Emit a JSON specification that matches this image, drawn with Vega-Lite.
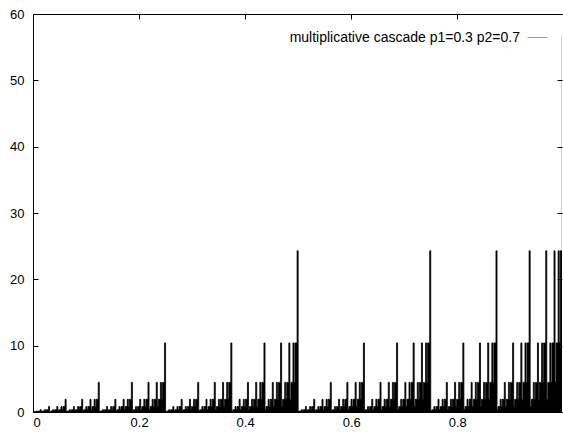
{
  "$schema": "https://vega.github.io/schema/vega-lite/v6.json",
  "width": 529,
  "height": 398,
  "autosize": {"type": "none"},
  "padding": {"left": 33, "top": 14, "right": 1, "bottom": 20},
  "background": "white",
  "config": {
    "view": {"stroke": null},
    "font": "Liberation Sans",
    "axis": {"grid": false, "domainColor": "#000000", "tickColor": "#000000", "domainWidth": 1, "tickWidth": 1, "labelColor": "#000000", "labelFont": "Liberation Sans", "labelFontSize": 13, "title": null}
  },
  "data": {"values": [
    {"x":0,"density":0.028},{"x":0.002,"density":0.065},{"x":0.0039,"density":0.065},{"x":0.0059,"density":0.151},{"x":0.0078,"density":0.065},{"x":0.0098,"density":0.151},{"x":0.0117,"density":0.151},{"x":0.0137,"density":0.351},
    {"x":0.0156,"density":0.065},{"x":0.0176,"density":0.151},{"x":0.0195,"density":0.151},{"x":0.0215,"density":0.351},{"x":0.0234,"density":0.151},{"x":0.0254,"density":0.351},{"x":0.0273,"density":0.351},{"x":0.0293,"density":0.82},
    {"x":0.0313,"density":0.065},{"x":0.0332,"density":0.151},{"x":0.0352,"density":0.151},{"x":0.0371,"density":0.351},{"x":0.0391,"density":0.151},{"x":0.041,"density":0.351},{"x":0.043,"density":0.351},{"x":0.0449,"density":0.82},
    {"x":0.0469,"density":0.151},{"x":0.0488,"density":0.351},{"x":0.0508,"density":0.351},{"x":0.0527,"density":0.82},{"x":0.0547,"density":0.351},{"x":0.0566,"density":0.82},{"x":0.0586,"density":0.82},{"x":0.0605,"density":1.913},

    {"x":0.0625,"density":0.065},{"x":0.0645,"density":0.151},{"x":0.0664,"density":0.151},{"x":0.0684,"density":0.351},{"x":0.0703,"density":0.151},{"x":0.0723,"density":0.351},{"x":0.0742,"density":0.351},{"x":0.0762,"density":0.82},
    {"x":0.0781,"density":0.151},{"x":0.0801,"density":0.351},{"x":0.082,"density":0.351},{"x":0.084,"density":0.82},{"x":0.0859,"density":0.351},{"x":0.0879,"density":0.82},{"x":0.0898,"density":0.82},{"x":0.0918,"density":1.913},
    {"x":0.0938,"density":0.151},{"x":0.0957,"density":0.351},{"x":0.0977,"density":0.351},{"x":0.0996,"density":0.82},{"x":0.1016,"density":0.351},{"x":0.1035,"density":0.82},{"x":0.1055,"density":0.82},{"x":0.1074,"density":1.913},
    {"x":0.1094,"density":0.351},{"x":0.1113,"density":0.82},{"x":0.1133,"density":0.82},{"x":0.1152,"density":1.913},{"x":0.1172,"density":0.82},{"x":0.1191,"density":1.913},{"x":0.1211,"density":1.913},{"x":0.123,"density":4.463},

    {"x":0.125,"density":0.065},{"x":0.127,"density":0.151},{"x":0.1289,"density":0.151},{"x":0.1309,"density":0.351},{"x":0.1328,"density":0.151},{"x":0.1348,"density":0.351},{"x":0.1367,"density":0.351},{"x":0.1387,"density":0.82},
    {"x":0.1406,"density":0.151},{"x":0.1426,"density":0.351},{"x":0.1445,"density":0.351},{"x":0.1465,"density":0.82},{"x":0.1484,"density":0.351},{"x":0.1504,"density":0.82},{"x":0.1523,"density":0.82},{"x":0.1543,"density":1.913},
    {"x":0.1563,"density":0.151},{"x":0.1582,"density":0.351},{"x":0.1602,"density":0.351},{"x":0.1621,"density":0.82},{"x":0.1641,"density":0.351},{"x":0.166,"density":0.82},{"x":0.168,"density":0.82},{"x":0.1699,"density":1.913},
    {"x":0.1719,"density":0.351},{"x":0.1738,"density":0.82},{"x":0.1758,"density":0.82},{"x":0.1777,"density":1.913},{"x":0.1797,"density":0.82},{"x":0.1816,"density":1.913},{"x":0.1836,"density":1.913},{"x":0.1855,"density":4.463},

    {"x":0.1875,"density":0.151},{"x":0.1895,"density":0.351},{"x":0.1914,"density":0.351},{"x":0.1934,"density":0.82},{"x":0.1953,"density":0.351},{"x":0.1973,"density":0.82},{"x":0.1992,"density":0.82},{"x":0.2012,"density":1.913},
    {"x":0.2031,"density":0.351},{"x":0.2051,"density":0.82},{"x":0.207,"density":0.82},{"x":0.209,"density":1.913},{"x":0.2109,"density":0.82},{"x":0.2129,"density":1.913},{"x":0.2148,"density":1.913},{"x":0.2168,"density":4.463},
    {"x":0.2188,"density":0.351},{"x":0.2207,"density":0.82},{"x":0.2227,"density":0.82},{"x":0.2246,"density":1.913},{"x":0.2266,"density":0.82},{"x":0.2285,"density":1.913},{"x":0.2305,"density":1.913},{"x":0.2324,"density":4.463},
    {"x":0.2344,"density":0.82},{"x":0.2363,"density":1.913},{"x":0.2383,"density":1.913},{"x":0.2402,"density":4.463},{"x":0.2422,"density":1.913},{"x":0.2441,"density":4.463},{"x":0.2461,"density":4.463},{"x":0.248,"density":10.413},

    {"x":0.25,"density":0.065},{"x":0.252,"density":0.151},{"x":0.2539,"density":0.151},{"x":0.2559,"density":0.351},{"x":0.2578,"density":0.151},{"x":0.2598,"density":0.351},{"x":0.2617,"density":0.351},{"x":0.2637,"density":0.82},
    {"x":0.2656,"density":0.151},{"x":0.2676,"density":0.351},{"x":0.2695,"density":0.351},{"x":0.2715,"density":0.82},{"x":0.2734,"density":0.351},{"x":0.2754,"density":0.82},{"x":0.2773,"density":0.82},{"x":0.2793,"density":1.913},
    {"x":0.2813,"density":0.151},{"x":0.2832,"density":0.351},{"x":0.2852,"density":0.351},{"x":0.2871,"density":0.82},{"x":0.2891,"density":0.351},{"x":0.291,"density":0.82},{"x":0.293,"density":0.82},{"x":0.2949,"density":1.913},
    {"x":0.2969,"density":0.351},{"x":0.2988,"density":0.82},{"x":0.3008,"density":0.82},{"x":0.3027,"density":1.913},{"x":0.3047,"density":0.82},{"x":0.3066,"density":1.913},{"x":0.3086,"density":1.913},{"x":0.3105,"density":4.463},

    {"x":0.3125,"density":0.151},{"x":0.3145,"density":0.351},{"x":0.3164,"density":0.351},{"x":0.3184,"density":0.82},{"x":0.3203,"density":0.351},{"x":0.3223,"density":0.82},{"x":0.3242,"density":0.82},{"x":0.3262,"density":1.913},
    {"x":0.3281,"density":0.351},{"x":0.3301,"density":0.82},{"x":0.332,"density":0.82},{"x":0.334,"density":1.913},{"x":0.3359,"density":0.82},{"x":0.3379,"density":1.913},{"x":0.3398,"density":1.913},{"x":0.3418,"density":4.463},
    {"x":0.3438,"density":0.351},{"x":0.3457,"density":0.82},{"x":0.3477,"density":0.82},{"x":0.3496,"density":1.913},{"x":0.3516,"density":0.82},{"x":0.3535,"density":1.913},{"x":0.3555,"density":1.913},{"x":0.3574,"density":4.463},
    {"x":0.3594,"density":0.82},{"x":0.3613,"density":1.913},{"x":0.3633,"density":1.913},{"x":0.3652,"density":4.463},{"x":0.3672,"density":1.913},{"x":0.3691,"density":4.463},{"x":0.3711,"density":4.463},{"x":0.373,"density":10.413},

    {"x":0.375,"density":0.151},{"x":0.377,"density":0.351},{"x":0.3789,"density":0.351},{"x":0.3809,"density":0.82},{"x":0.3828,"density":0.351},{"x":0.3848,"density":0.82},{"x":0.3867,"density":0.82},{"x":0.3887,"density":1.913},
    {"x":0.3906,"density":0.351},{"x":0.3926,"density":0.82},{"x":0.3945,"density":0.82},{"x":0.3965,"density":1.913},{"x":0.3984,"density":0.82},{"x":0.4004,"density":1.913},{"x":0.4023,"density":1.913},{"x":0.4043,"density":4.463},
    {"x":0.4063,"density":0.351},{"x":0.4082,"density":0.82},{"x":0.4102,"density":0.82},{"x":0.4121,"density":1.913},{"x":0.4141,"density":0.82},{"x":0.416,"density":1.913},{"x":0.418,"density":1.913},{"x":0.4199,"density":4.463},
    {"x":0.4219,"density":0.82},{"x":0.4238,"density":1.913},{"x":0.4258,"density":1.913},{"x":0.4277,"density":4.463},{"x":0.4297,"density":1.913},{"x":0.4316,"density":4.463},{"x":0.4336,"density":4.463},{"x":0.4355,"density":10.413},

    {"x":0.4375,"density":0.351},{"x":0.4395,"density":0.82},{"x":0.4414,"density":0.82},{"x":0.4434,"density":1.913},{"x":0.4453,"density":0.82},{"x":0.4473,"density":1.913},{"x":0.4492,"density":1.913},{"x":0.4512,"density":4.463},
    {"x":0.4531,"density":0.82},{"x":0.4551,"density":1.913},{"x":0.457,"density":1.913},{"x":0.459,"density":4.463},{"x":0.4609,"density":1.913},{"x":0.4629,"density":4.463},{"x":0.4648,"density":4.463},{"x":0.4668,"density":10.413},
    {"x":0.4688,"density":0.82},{"x":0.4707,"density":1.913},{"x":0.4727,"density":1.913},{"x":0.4746,"density":4.463},{"x":0.4766,"density":1.913},{"x":0.4785,"density":4.463},{"x":0.4805,"density":4.463},{"x":0.4824,"density":10.413},
    {"x":0.4844,"density":1.913},{"x":0.4863,"density":4.463},{"x":0.4883,"density":4.463},{"x":0.4902,"density":10.413},{"x":0.4922,"density":4.463},{"x":0.4941,"density":10.413},{"x":0.4961,"density":10.413},{"x":0.498,"density":24.297},

    {"x":0.5,"density":0.065},{"x":0.502,"density":0.151},{"x":0.5039,"density":0.151},{"x":0.5059,"density":0.351},{"x":0.5078,"density":0.151},{"x":0.5098,"density":0.351},{"x":0.5117,"density":0.351},{"x":0.5137,"density":0.82},
    {"x":0.5156,"density":0.151},{"x":0.5176,"density":0.351},{"x":0.5195,"density":0.351},{"x":0.5215,"density":0.82},{"x":0.5234,"density":0.351},{"x":0.5254,"density":0.82},{"x":0.5273,"density":0.82},{"x":0.5293,"density":1.913},
    {"x":0.5313,"density":0.151},{"x":0.5332,"density":0.351},{"x":0.5352,"density":0.351},{"x":0.5371,"density":0.82},{"x":0.5391,"density":0.351},{"x":0.541,"density":0.82},{"x":0.543,"density":0.82},{"x":0.5449,"density":1.913},
    {"x":0.5469,"density":0.351},{"x":0.5488,"density":0.82},{"x":0.5508,"density":0.82},{"x":0.5527,"density":1.913},{"x":0.5547,"density":0.82},{"x":0.5566,"density":1.913},{"x":0.5586,"density":1.913},{"x":0.5605,"density":4.463},

    {"x":0.5625,"density":0.151},{"x":0.5645,"density":0.351},{"x":0.5664,"density":0.351},{"x":0.5684,"density":0.82},{"x":0.5703,"density":0.351},{"x":0.5723,"density":0.82},{"x":0.5742,"density":0.82},{"x":0.5762,"density":1.913},
    {"x":0.5781,"density":0.351},{"x":0.5801,"density":0.82},{"x":0.582,"density":0.82},{"x":0.584,"density":1.913},{"x":0.5859,"density":0.82},{"x":0.5879,"density":1.913},{"x":0.5898,"density":1.913},{"x":0.5918,"density":4.463},
    {"x":0.5938,"density":0.351},{"x":0.5957,"density":0.82},{"x":0.5977,"density":0.82},{"x":0.5996,"density":1.913},{"x":0.6016,"density":0.82},{"x":0.6035,"density":1.913},{"x":0.6055,"density":1.913},{"x":0.6074,"density":4.463},
    {"x":0.6094,"density":0.82},{"x":0.6113,"density":1.913},{"x":0.6133,"density":1.913},{"x":0.6152,"density":4.463},{"x":0.6172,"density":1.913},{"x":0.6191,"density":4.463},{"x":0.6211,"density":4.463},{"x":0.623,"density":10.413},

    {"x":0.625,"density":0.151},{"x":0.627,"density":0.351},{"x":0.6289,"density":0.351},{"x":0.6309,"density":0.82},{"x":0.6328,"density":0.351},{"x":0.6348,"density":0.82},{"x":0.6367,"density":0.82},{"x":0.6387,"density":1.913},
    {"x":0.6406,"density":0.351},{"x":0.6426,"density":0.82},{"x":0.6445,"density":0.82},{"x":0.6465,"density":1.913},{"x":0.6484,"density":0.82},{"x":0.6504,"density":1.913},{"x":0.6523,"density":1.913},{"x":0.6543,"density":4.463},
    {"x":0.6563,"density":0.351},{"x":0.6582,"density":0.82},{"x":0.6602,"density":0.82},{"x":0.6621,"density":1.913},{"x":0.6641,"density":0.82},{"x":0.666,"density":1.913},{"x":0.668,"density":1.913},{"x":0.6699,"density":4.463},
    {"x":0.6719,"density":0.82},{"x":0.6738,"density":1.913},{"x":0.6758,"density":1.913},{"x":0.6777,"density":4.463},{"x":0.6797,"density":1.913},{"x":0.6816,"density":4.463},{"x":0.6836,"density":4.463},{"x":0.6855,"density":10.413},

    {"x":0.6875,"density":0.351},{"x":0.6895,"density":0.82},{"x":0.6914,"density":0.82},{"x":0.6934,"density":1.913},{"x":0.6953,"density":0.82},{"x":0.6973,"density":1.913},{"x":0.6992,"density":1.913},{"x":0.7012,"density":4.463},
    {"x":0.7031,"density":0.82},{"x":0.7051,"density":1.913},{"x":0.707,"density":1.913},{"x":0.709,"density":4.463},{"x":0.7109,"density":1.913},{"x":0.7129,"density":4.463},{"x":0.7148,"density":4.463},{"x":0.7168,"density":10.413},
    {"x":0.7188,"density":0.82},{"x":0.7207,"density":1.913},{"x":0.7227,"density":1.913},{"x":0.7246,"density":4.463},{"x":0.7266,"density":1.913},{"x":0.7285,"density":4.463},{"x":0.7305,"density":4.463},{"x":0.7324,"density":10.413},
    {"x":0.7344,"density":1.913},{"x":0.7363,"density":4.463},{"x":0.7383,"density":4.463},{"x":0.7402,"density":10.413},{"x":0.7422,"density":4.463},{"x":0.7441,"density":10.413},{"x":0.7461,"density":10.413},{"x":0.748,"density":24.297},

    {"x":0.75,"density":0.151},{"x":0.752,"density":0.351},{"x":0.7539,"density":0.351},{"x":0.7559,"density":0.82},{"x":0.7578,"density":0.351},{"x":0.7598,"density":0.82},{"x":0.7617,"density":0.82},{"x":0.7637,"density":1.913},
    {"x":0.7656,"density":0.351},{"x":0.7676,"density":0.82},{"x":0.7695,"density":0.82},{"x":0.7715,"density":1.913},{"x":0.7734,"density":0.82},{"x":0.7754,"density":1.913},{"x":0.7773,"density":1.913},{"x":0.7793,"density":4.463},
    {"x":0.7813,"density":0.351},{"x":0.7832,"density":0.82},{"x":0.7852,"density":0.82},{"x":0.7871,"density":1.913},{"x":0.7891,"density":0.82},{"x":0.791,"density":1.913},{"x":0.793,"density":1.913},{"x":0.7949,"density":4.463},
    {"x":0.7969,"density":0.82},{"x":0.7988,"density":1.913},{"x":0.8008,"density":1.913},{"x":0.8027,"density":4.463},{"x":0.8047,"density":1.913},{"x":0.8066,"density":4.463},{"x":0.8086,"density":4.463},{"x":0.8105,"density":10.413},

    {"x":0.8125,"density":0.351},{"x":0.8145,"density":0.82},{"x":0.8164,"density":0.82},{"x":0.8184,"density":1.913},{"x":0.8203,"density":0.82},{"x":0.8223,"density":1.913},{"x":0.8242,"density":1.913},{"x":0.8262,"density":4.463},
    {"x":0.8281,"density":0.82},{"x":0.8301,"density":1.913},{"x":0.832,"density":1.913},{"x":0.834,"density":4.463},{"x":0.8359,"density":1.913},{"x":0.8379,"density":4.463},{"x":0.8398,"density":4.463},{"x":0.8418,"density":10.413},
    {"x":0.8438,"density":0.82},{"x":0.8457,"density":1.913},{"x":0.8477,"density":1.913},{"x":0.8496,"density":4.463},{"x":0.8516,"density":1.913},{"x":0.8535,"density":4.463},{"x":0.8555,"density":4.463},{"x":0.8574,"density":10.413},
    {"x":0.8594,"density":1.913},{"x":0.8613,"density":4.463},{"x":0.8633,"density":4.463},{"x":0.8652,"density":10.413},{"x":0.8672,"density":4.463},{"x":0.8691,"density":10.413},{"x":0.8711,"density":10.413},{"x":0.873,"density":24.297},

    {"x":0.875,"density":0.351},{"x":0.877,"density":0.82},{"x":0.8789,"density":0.82},{"x":0.8809,"density":1.913},{"x":0.8828,"density":0.82},{"x":0.8848,"density":1.913},{"x":0.8867,"density":1.913},{"x":0.8887,"density":4.463},
    {"x":0.8906,"density":0.82},{"x":0.8926,"density":1.913},{"x":0.8945,"density":1.913},{"x":0.8965,"density":4.463},{"x":0.8984,"density":1.913},{"x":0.9004,"density":4.463},{"x":0.9023,"density":4.463},{"x":0.9043,"density":10.413},
    {"x":0.9063,"density":0.82},{"x":0.9082,"density":1.913},{"x":0.9102,"density":1.913},{"x":0.9121,"density":4.463},{"x":0.9141,"density":1.913},{"x":0.916,"density":4.463},{"x":0.918,"density":4.463},{"x":0.9199,"density":10.413},
    {"x":0.9219,"density":1.913},{"x":0.9238,"density":4.463},{"x":0.9258,"density":4.463},{"x":0.9277,"density":10.413},{"x":0.9297,"density":4.463},{"x":0.9316,"density":10.413},{"x":0.9336,"density":10.413},{"x":0.9355,"density":24.297},

    {"x":0.9375,"density":0.82},{"x":0.9395,"density":1.913},{"x":0.9414,"density":1.913},{"x":0.9434,"density":4.463},{"x":0.9453,"density":1.913},{"x":0.9473,"density":4.463},{"x":0.9492,"density":4.463},{"x":0.9512,"density":10.413},
    {"x":0.9531,"density":1.913},{"x":0.9551,"density":4.463},{"x":0.957,"density":4.463},{"x":0.959,"density":10.413},{"x":0.9609,"density":4.463},{"x":0.9629,"density":10.413},{"x":0.9648,"density":10.413},{"x":0.9668,"density":24.297},
    {"x":0.9688,"density":1.913},{"x":0.9707,"density":4.463},{"x":0.9727,"density":4.463},{"x":0.9746,"density":10.413},{"x":0.9766,"density":4.463},{"x":0.9785,"density":10.413},{"x":0.9805,"density":10.413},{"x":0.9824,"density":24.297},
    {"x":0.9844,"density":4.463},{"x":0.9863,"density":10.413},{"x":0.9883,"density":10.413},{"x":0.9902,"density":24.297},{"x":0.9922,"density":10.413},{"x":0.9941,"density":24.297},{"x":0.9961,"density":24.297},{"x":0.99805,"density":56.694}
  ]},
  "layer": [
    {
      "mark": {"type": "area", "interpolate": "step-after", "clip": true},
      "encoding": {
        "x": {"field": "x", "type": "quantitative",
              "scale": {"domain": [0, 0.9975], "nice": false, "zero": false},
              "axis": {"orient": "bottom", "values": [0, 0.2, 0.4, 0.6, 0.8], "format": "~g", "tickSize": -5, "labelPadding": 9}},
        "y": {"field": "density", "type": "quantitative",
              "scale": {"domain": [0, 60], "nice": false},
              "axis": {"orient": "left", "values": [0, 10, 20, 30, 40, 50, 60], "tickSize": -5, "labelPadding": 14}},
        "color": {"datum": "multiplicative cascade p1=0.3 p2=0.7", "type": "nominal",
                  "scale": {"range": ["#000000"]},
                  "legend": {"title": null, "orient": "none", "legendX": 494, "legendY": 13, "padding": 0,
                             "symbolType": "stroke", "symbolSize": 400, "symbolStrokeWidth": 1,
                             "labelAlign": "right", "labelOffset": -28, "labelLimit": 0,
                             "labelFont": "Liberation Sans", "labelFontSize": 14, "labelColor": "#000000",
                             "encode": {"symbols": {"update": {"stroke": {"value": "#9a9a9a"}, "fill": {"value": "transparent"}, "strokeWidth": {"value": 1}}}}}}
      }
    },
    {
      "mark": {"type": "line", "interpolate": "step-after", "clip": true, "color": "#000000", "strokeWidth": 0.8},
      "encoding": {
        "x": {"field": "x", "type": "quantitative",
              "axis": {"orient": "top", "values": [0, 0.2, 0.4, 0.6, 0.8], "labels": false, "tickSize": -5}},
        "y": {"field": "density", "type": "quantitative",
              "axis": {"orient": "right", "values": [0, 10, 20, 30, 40, 50, 60], "labels": false, "domain": false, "tickSize": -5}}
      }
    }
  ],
  "resolve": {"axis": {"x": "independent", "y": "independent"}}
}
